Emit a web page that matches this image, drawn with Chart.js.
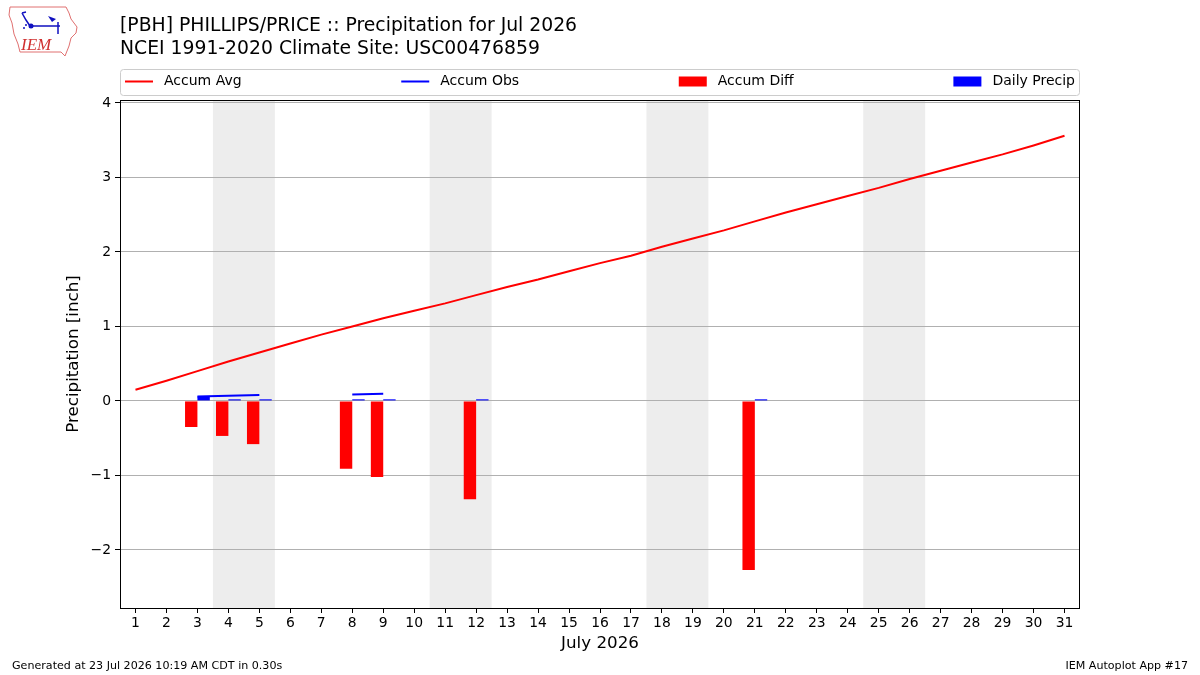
<!DOCTYPE html>
<html>
<head>
<meta charset="utf-8">
<script src="https://cdn.jsdelivr.net/npm/chart.js@4/dist/chart.umd.min.js"></script>
<style>
  html, body { margin: 0; padding: 0; background: #ffffff; }
  #wrap { width: 1200px; height: 675px; position: relative; }
</style>
</head>
<body>
<div id="wrap"><canvas id="c" width="1200" height="675"></canvas></div>
<script>
// ---------------- DATA ----------------
const days = [1,2,3,4,5,6,7,8,9,10,11,12,13,14,15,16,17,18,19,20,21,22,23,24,25,26,27,28,29,30,31];
const accumAvg = [0.15,0.27,0.40,0.53,0.65,0.77,0.89,1.00,1.11,1.21,1.31,1.42,1.53,1.63,1.74,1.85,1.95,2.07,2.18,2.29,2.41,2.53,2.64,2.75,2.86,2.98,3.09,3.20,3.31,3.43,3.56];
const accumObs = [null,null,0.06,0.07,0.08,null,null,0.085,0.095,null,null,0.10,null,null,null,null,null,null,null,null,0.13,null,null,null,null,null,null,null,null,null,null];
const accumDiff = [null,null,-0.35,-0.47,-0.58,null,null,-0.91,-1.02,null,null,-1.32,null,null,null,null,null,null,null,null,-2.27,null,null,null,null,null,null,null,null,null,null];
const dailyPrecip = [null,null,0.06,0.01,0.01,null,null,0.01,0.01,null,null,0.01,null,null,null,null,null,null,null,null,0.02,null,null,null,null,null,null,null,null,null,null];
const weekendStarts = [4, 11, 18, 25];
const yTicks = [-2, -1, 0, 1, 2, 3, 4];
const yTickLabels = ['\u22122', '\u22121', '0', '1', '2', '3', '4'];
const xTicks = days;
const titleLines = ['[PBH] PHILLIPS/PRICE :: Precipitation for Jul 2026', 'NCEI 1991-2020 Climate Site: USC00476859'];
const xTitle = 'July 2026';
const yTitle = 'Precipitation [inch]';
const footerLeft = 'Generated at 23 Jul 2026 10:19 AM CDT in 0.30s';
const footerRight = 'IEM Autoplot App #17';

const FONT = "'DejaVu Sans', sans-serif";
const toXY = arr => days.map((d, i) => ({x: d, y: arr[i]}));
const nonNull = arr => days.map((d, i) => ({x: d, y: arr[i]})).filter(p => p.y !== null);

// ---------------- PLUGINS ----------------
const backgroundPlugin = {
  id: 'bgShade',
  beforeDraw(chart) {
    const {ctx, chartArea: a, scales: {x}} = chart;
    ctx.save();
    ctx.fillStyle = '#ffffff';
    ctx.fillRect(0, 0, chart.width, chart.height);
    ctx.fillStyle = '#ededed';
    weekendStarts.forEach(d => {
      const x0 = x.getPixelForValue(d - 0.5);
      const x1 = x.getPixelForValue(d + 1.5);
      ctx.fillRect(x0, a.top, x1 - x0, a.bottom - a.top);
    });
    ctx.restore();
  }
};

const framePlugin = {
  id: 'frameAndText',
  afterDraw(chart) {
    const {ctx, chartArea: a} = chart;
    ctx.save();
    // axes frame
    ctx.strokeStyle = '#000000';
    ctx.lineWidth = 1;
    ctx.strokeRect(Math.round(a.left) + 0.5, Math.round(a.top) + 0.5,
                   Math.round(a.right - a.left) - 1, Math.round(a.bottom - a.top));

    // titles
    ctx.fillStyle = '#000000';
    ctx.textAlign = 'left';
    ctx.textBaseline = 'alphabetic';
    ctx.font = '18.8px ' + FONT;
    ctx.fillText(titleLines[0], 120, 30.5);
    ctx.fillText(titleLines[1], 120, 53.5);

    // legend
    const lx0 = 120.5, ly0 = 69.5, lw = 959, lh = 26;
    ctx.beginPath();
    ctx.roundRect(lx0, ly0, lw, lh, 3);
    ctx.fillStyle = 'rgba(255,255,255,0.8)';
    ctx.fill();
    ctx.strokeStyle = '#cccccc';
    ctx.lineWidth = 1;
    ctx.stroke();
    ctx.font = '14px ' + FONT;
    const items = chart.data.datasets.map(ds => ({
      label: ds.label, color: ds.type === 'line' ? ds.borderColor : ds.backgroundColor, kind: ds.type
    }));
    const handleW = 28, pad = 11;
    const widths = items.map(it => handleW + pad + ctx.measureText(it.label).width);
    const start = 125, end = 1075;
    const gap = (end - start - widths.reduce((s, w) => s + w, 0)) / (items.length - 1);
    let cx = start;
    const cy = 81.5;
    items.forEach((it, i) => {
      if (it.kind === 'line') {
        ctx.strokeStyle = it.color;
        ctx.lineWidth = 2;
        ctx.beginPath();
        ctx.moveTo(cx, cy);
        ctx.lineTo(cx + handleW, cy);
        ctx.stroke();
      } else {
        ctx.fillStyle = it.color;
        ctx.fillRect(cx, cy - 5, handleW, 10);
      }
      ctx.fillStyle = '#000000';
      ctx.textBaseline = 'middle';
      ctx.fillText(it.label, cx + handleW + pad, cy);
      cx += widths[i] + gap;
    });

    // footer
    ctx.font = '11.1px ' + FONT;
    ctx.textBaseline = 'alphabetic';
    ctx.textAlign = 'left';
    ctx.fillText(footerLeft, 12, 668.5);
    ctx.textAlign = 'right';
    ctx.fillText(footerRight, 1188, 668.5);

    // logo (approximate IEM Iowa outline)
    ctx.beginPath();
    const pts = [[10,7],[66,7],[69,13],[71,19],[77,27],[76,33],[71,38],[69,46],[65,56],[61,52],[20,52],[18,44],[14,34],[12,23],[9,15]];
    pts.forEach((p, i) => i ? ctx.lineTo(p[0], p[1]) : ctx.moveTo(p[0], p[1]));
    ctx.closePath();
    ctx.fillStyle = '#ffffff';
    ctx.fill();
    ctx.strokeStyle = '#e07070';
    ctx.lineWidth = 1;
    ctx.stroke();
    ctx.strokeStyle = '#1010c0';
    ctx.fillStyle = '#1010c0';
    ctx.lineWidth = 1.5;
    ctx.beginPath();
    ctx.moveTo(30, 26); ctx.lineTo(60, 26);
    ctx.moveTo(58, 22); ctx.lineTo(58, 34);
    ctx.moveTo(22, 13); ctx.lineTo(26, 20); ctx.lineTo(30, 26);
    ctx.moveTo(22, 13); ctx.lineTo(26, 12);
    ctx.stroke();
    ctx.beginPath(); ctx.arc(31, 26, 2.5, 0, Math.PI * 2); ctx.fill();
    ctx.beginPath(); ctx.moveTo(48, 16); ctx.lineTo(56, 19); ctx.lineTo(52, 22); ctx.closePath(); ctx.fill();
    ctx.beginPath(); ctx.arc(24, 28, 1, 0, Math.PI * 2); ctx.arc(26, 25, 1, 0, Math.PI * 2); ctx.fill();
    ctx.fillStyle = '#d03030';
    ctx.font = 'italic 17px "Liberation Serif", serif';
    ctx.textAlign = 'left';
    ctx.fillText('IEM', 21, 50);
    ctx.restore();
  }
};

// ---------------- CHART ----------------
Chart.defaults.font.family = FONT;
Chart.defaults.color = '#000000';

new Chart(document.getElementById('c'), {
  data: {
    datasets: [
      { type: 'line', label: 'Accum Avg', data: toXY(accumAvg), borderColor: '#ff0000', backgroundColor: '#ff0000',
        borderWidth: 2, pointRadius: 0, tension: 0 },
      { type: 'line', label: 'Accum Obs', data: toXY(accumObs), borderColor: '#0000ff', backgroundColor: '#0000ff',
        borderWidth: 2, pointRadius: 0, tension: 0, spanGaps: false },
      { type: 'bar', label: 'Accum Diff', data: nonNull(accumDiff), backgroundColor: '#ff0000', borderWidth: 0,
        categoryPercentage: 0.8, barPercentage: 1.0 },
      { type: 'bar', label: 'Daily Precip', data: nonNull(dailyPrecip), backgroundColor: '#0000ff', borderWidth: 0,
        categoryPercentage: 0.8, barPercentage: 1.0, minBarLength: 1.6 }
    ]
  },
  options: {
    responsive: false,
    animation: false,
    devicePixelRatio: 1,
    layout: { padding: { left: 0, right: 120, top: 100, bottom: 0 } },
    plugins: { legend: { display: false }, title: { display: false }, tooltip: { enabled: false } },
    scales: {
      x: {
        type: 'linear', min: 0.5, max: 31.5, offset: false,
        afterBuildTicks: s => { s.ticks = xTicks.map(v => ({ value: v })); },
        afterFit: s => { s.height = 67; },
        ticks: { autoSkip: false, maxRotation: 0, padding: 2, font: { size: 13.9 }, color: '#000000',
                 callback: v => String(v) },
        grid: { offset: false, drawOnChartArea: false, drawTicks: true, tickLength: 5, tickColor: '#000000', color: '#000000' },
        border: { display: false },
        title: { display: true, text: xTitle, font: { size: 16.7 }, color: '#000000', padding: { top: 0, bottom: 21 } }
      },
      y: {
        type: 'linear', min: -2.78, max: 4.04,
        afterBuildTicks: s => { s.ticks = yTicks.map(v => ({ value: v })); },
        afterFit: s => { s.width = 120; },
        ticks: { padding: 4, font: { size: 13.9 }, color: '#000000',
                 callback: v => { const i = yTicks.indexOf(v); return i >= 0 ? yTickLabels[i] : ''; } },
        grid: { color: '#b0b0b0', lineWidth: 1, drawTicks: true, tickLength: 5, tickColor: '#000000' },
        border: { display: false },
        title: { display: true, text: yTitle, font: { size: 16.7 }, color: '#000000', padding: { top: 64, bottom: 0 } }
      }
    }
  },
  plugins: [backgroundPlugin, framePlugin]
});
</script>
</body>
</html>
